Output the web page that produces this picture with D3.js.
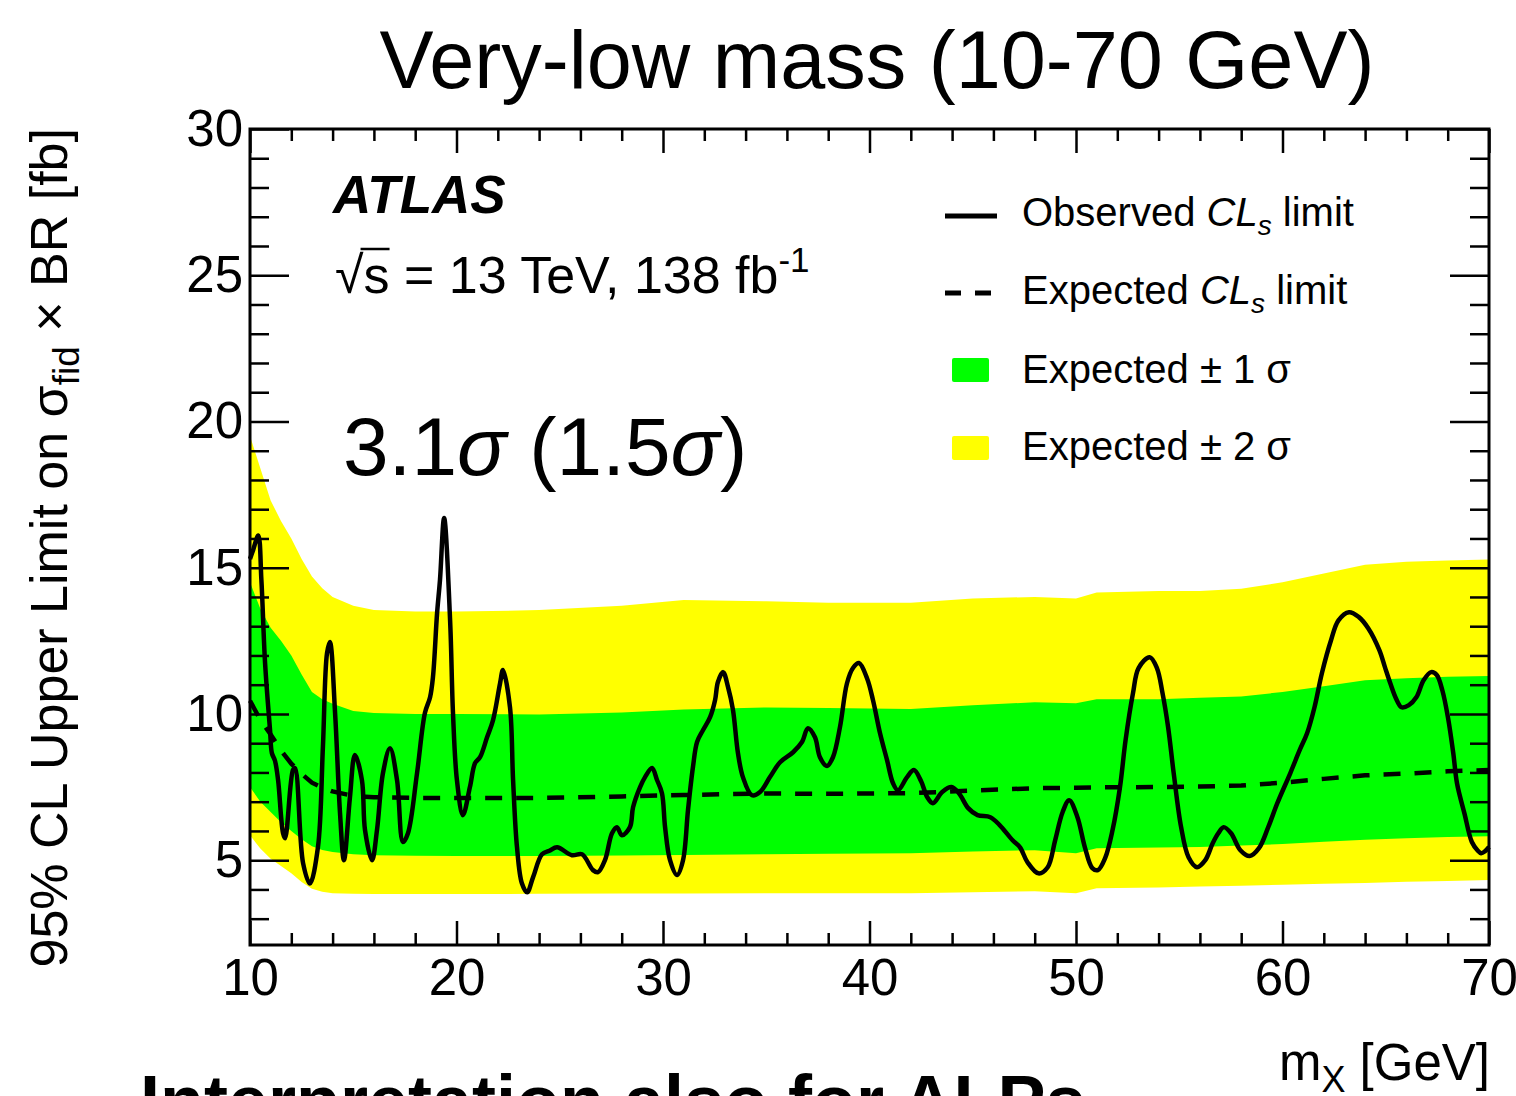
<!DOCTYPE html>
<html>
<head>
<meta charset="utf-8">
<script src="https://cdn.jsdelivr.net/npm/d3@7"></script>
<style>
  html, body { margin: 0; padding: 0; background: #fff; }
  svg { display: block; }
  text { font-family: "Liberation Sans", Arial, Helvetica, sans-serif; fill: #000; }
</style>
</head>
<body>
<svg id="chart" width="1516" height="1096"></svg>
<script>
// ---------------- data ----------------
const bandMass = [10, 10.5, 11, 11.5, 12, 12.5, 13, 13.5, 14, 15, 16, 18, 20, 24, 28, 31, 35, 38, 42, 45, 48, 50, 51, 54, 56, 58, 60, 62, 64, 66, 68, 70];
const plus2 = [19.5, 18.4, 17.3, 16.6, 16.0, 15.3, 14.7, 14.3, 14.0, 13.7, 13.55, 13.5, 13.5, 13.55, 13.7, 13.9, 13.85, 13.8, 13.8, 13.95, 14.0, 13.95, 14.15, 14.2, 14.2, 14.28, 14.5, 14.8, 15.1, 15.2, 15.25, 15.28];
const plus1 = [14.5, 13.6, 12.95, 12.5, 12.0, 11.35, 10.75, 10.5, 10.35, 10.1, 10.03, 10.0, 10.0, 9.98, 10.05, 10.15, 10.22, 10.2, 10.17, 10.3, 10.4, 10.37, 10.5, 10.5, 10.55, 10.6, 10.75, 10.95, 11.15, 11.22, 11.27, 11.3];
const expected = [10.45, 9.8, 9.3, 8.75, 8.3, 7.95, 7.65, 7.48, 7.35, 7.2, 7.15, 7.13, 7.13, 7.13, 7.18, 7.23, 7.28, 7.27, 7.29, 7.38, 7.46, 7.48, 7.49, 7.5, 7.52, 7.55, 7.65, 7.78, 7.9, 7.96, 8.04, 8.08];
const minus1 = [7.5, 7.0, 6.65, 6.3, 6.0, 5.72, 5.48, 5.35, 5.28, 5.2, 5.17, 5.15, 5.14, 5.14, 5.16, 5.18, 5.2, 5.22, 5.24, 5.3, 5.34, 5.24, 5.41, 5.43, 5.45, 5.5, 5.55, 5.63, 5.7, 5.75, 5.79, 5.82];
const minus2 = [5.85, 5.4, 5.05, 4.8, 4.55, 4.25, 4.02, 3.92, 3.87, 3.85, 3.84, 3.84, 3.84, 3.85, 3.86, 3.86, 3.87, 3.87, 3.87, 3.9, 3.94, 3.87, 4.04, 4.07, 4.1, 4.13, 4.16, 4.19, 4.22, 4.26, 4.29, 4.32];

const obsMass = [10.0, 10.15, 10.4, 10.55, 10.73, 10.97, 11.06, 11.21, 11.36, 11.6, 11.7, 12.08, 12.18, 12.57, 12.9, 13.29, 13.53, 13.73, 13.87, 14.12, 14.36, 14.55, 14.84, 15.08, 15.42, 15.57, 15.91, 16.15, 16.44, 16.78, 17.12, 17.41, 17.65, 18.09, 18.47, 18.72, 18.86, 19.06, 19.2, 19.4, 19.69, 19.83, 20.02, 20.31, 20.65, 20.9, 21.14, 21.48, 21.77, 22.11, 22.25, 22.59, 22.74, 22.93, 23.17, 23.42, 23.71, 24.14, 24.5, 24.87, 25.59, 26.08, 26.61, 26.85, 27.19, 27.53, 27.77, 28.01, 28.4, 28.55, 28.89, 29.13, 29.47, 29.71, 29.95, 30.1, 30.34, 30.68, 30.97, 31.21, 31.45, 31.65, 31.94, 32.28, 32.52, 32.66, 32.91, 33.15, 33.39, 33.63, 33.87, 34.31, 34.7, 35.18, 35.67, 36.3, 36.73, 37.02, 37.36, 37.6, 37.94, 38.23, 38.57, 38.91, 39.2, 39.49, 39.88, 40.17, 40.51, 40.85, 41.14, 41.38, 41.82, 42.15, 42.5, 42.8, 43.07, 43.52, 43.97, 44.33, 44.78, 45.23, 45.85, 46.3, 46.93, 47.29, 47.65, 48.18, 48.63, 48.99, 49.35, 49.67, 50.07, 50.43, 50.79, 51.06, 51.41, 51.77, 52.13, 52.4, 52.76, 53.03, 53.57, 53.92, 54.19, 54.46, 54.73, 55.09, 55.45, 55.86, 56.26, 56.62, 56.89, 57.15, 57.51, 57.96, 58.41, 58.86, 59.31, 59.75, 60.38, 60.83, 61.19, 61.55, 61.91, 62.35, 62.71, 63.22, 63.7, 64.15, 64.69, 64.96, 65.22, 65.49, 65.76, 66.12, 66.48, 66.84, 67.2, 67.47, 67.74, 68.01, 68.27, 68.45, 68.81, 69.17, 69.44, 69.62, 69.8, 70.0];
const obsLimit = [15.3, 15.6, 16.1, 14.6, 11.74, 9.45, 8.66, 8.4, 7.74, 5.92, 5.75, 8.08, 8.15, 4.9, 4.2, 5.44, 8.86, 12.08, 12.46, 10.03, 6.6, 5.0, 7.15, 8.6, 7.74, 6.03, 5.0, 6.03, 7.98, 8.83, 7.74, 5.62, 5.92, 7.98, 10.03, 10.57, 11.26, 13.45, 14.58, 16.7, 13.2, 10.03, 7.74, 6.54, 7.5, 8.32, 8.52, 9.2, 9.79, 11.05, 11.5, 10.23, 7.74, 5.44, 4.2, 3.9, 4.42, 5.2, 5.32, 5.44, 5.17, 5.2, 4.66, 4.59, 5.0, 5.92, 6.13, 5.85, 6.13, 6.81, 7.5, 7.84, 8.15, 7.74, 7.29, 6.13, 5.0, 4.49, 5.0, 6.71, 8.18, 9.04, 9.45, 9.89, 10.47, 11.09, 11.43, 10.92, 10.13, 8.66, 7.84, 7.22, 7.33, 7.84, 8.35, 8.69, 9.04, 9.51, 9.2, 8.52, 8.22, 8.52, 9.55, 11.05, 11.57, 11.74, 11.22, 10.47, 9.34, 8.42, 7.63, 7.39, 7.84, 8.08, 7.7, 7.15, 6.95, 7.33, 7.5, 7.29, 6.78, 6.54, 6.47, 6.2, 5.68, 5.44, 4.93, 4.55, 4.76, 5.68, 6.64, 7.05, 6.47, 5.44, 4.73, 4.66, 5.07, 6.03, 7.5, 9.1, 10.71, 11.57, 11.94, 11.57, 10.71, 9.55, 7.98, 6.13, 5.1, 4.76, 5.0, 5.58, 5.92, 6.13, 5.92, 5.34, 5.14, 5.41, 6.13, 6.95, 7.98, 8.76, 9.34, 10.23, 11.4, 12.52, 13.2, 13.48, 13.31, 12.93, 12.18, 11.6, 11.05, 10.54, 10.23, 10.3, 10.57, 11.16, 11.43, 11.33, 10.81, 9.89, 8.66, 7.63, 6.6, 5.62, 5.34, 5.24, 5.3, 5.45];

const xMajorTicks = [10, 20, 30, 40, 50, 60, 70];
const xMinorTicks = d3.range(12, 70, 2).filter(v => v % 10 !== 0);
const yMajorTicks = [5, 10, 15, 20, 25, 30];
const yMinorTicks = d3.range(3, 30, 1).filter(v => v % 5 !== 0);

// ---------------- layout ----------------
const svg = d3.select("#chart");
const L = 250, R = 1489, T = 129, B = 945;
const x = d3.scaleLinear().domain([10, 70]).range([L, R]);
const y = d3.scaleLinear().domain([2.1, 30]).range([B, T]);

const bands = bandMass.map((m, i) => ({ m, p2: plus2[i], p1: plus1[i], e: expected[i], m1: minus1[i], m2: minus2[i] }));
const obs = obsMass.map((m, i) => ({ m, v: obsLimit[i] }));

svg.append("rect").attr("width", 1516).attr("height", 1096).attr("fill", "#fff");

const area2 = d3.area().x(d => x(d.m)).y0(d => y(d.m2)).y1(d => y(d.p2));
const area1 = d3.area().x(d => x(d.m)).y0(d => y(d.m1)).y1(d => y(d.p1));
svg.append("path").datum(bands).attr("d", area2).attr("fill", "#ffff00");
svg.append("path").datum(bands).attr("d", area1).attr("fill", "#00ff00");

svg.append("path").datum(bands)
  .attr("d", d3.line().x(d => x(d.m)).y(d => y(d.e)))
  .attr("fill", "none").attr("stroke", "#000").attr("stroke-width", 4.5)
  .attr("stroke-dasharray", "17,14");

svg.append("path").datum(obs)
  .attr("d", d3.line().x(d => x(d.m)).y(d => y(d.v)).curve(d3.curveCatmullRom.alpha(0.5)))
  .attr("fill", "none").attr("stroke", "#000").attr("stroke-width", 4.5)
  .attr("stroke-linejoin", "round");

// ---------------- axes ----------------
function styleAxis(g) {
  g.select(".domain").remove();
  g.selectAll(".tick line").attr("stroke", "#000").attr("stroke-width", 2.5);
  g.selectAll(".tick text").attr("font-size", 51).attr("fill", "#000")
    .attr("font-family", '"Liberation Sans", Arial, Helvetica, sans-serif');
}
const fmt = d3.format("d");
svg.append("g").attr("transform", `translate(0,${B})`)
  .call(d3.axisBottom(x).tickValues(xMajorTicks).tickSize(-24).tickPadding(14).tickFormat(fmt)).call(styleAxis);
svg.append("g").attr("transform", `translate(0,${B})`)
  .call(d3.axisBottom(x).tickValues(xMinorTicks).tickSize(-12).tickFormat("")).call(styleAxis);
svg.append("g").attr("transform", `translate(0,${T})`)
  .call(d3.axisTop(x).tickValues(xMajorTicks).tickSize(-24).tickFormat("")).call(styleAxis);
svg.append("g").attr("transform", `translate(0,${T})`)
  .call(d3.axisTop(x).tickValues(xMinorTicks).tickSize(-12).tickFormat("")).call(styleAxis);
svg.append("g").attr("transform", `translate(${L},0)`)
  .call(d3.axisLeft(y).tickValues(yMajorTicks).tickSize(-39).tickPadding(7).tickFormat(fmt)).call(styleAxis);
svg.append("g").attr("transform", `translate(${L},0)`)
  .call(d3.axisLeft(y).tickValues(yMinorTicks).tickSize(-19).tickFormat("")).call(styleAxis);
svg.append("g").attr("transform", `translate(${R},0)`)
  .call(d3.axisRight(y).tickValues(yMajorTicks).tickSize(-39).tickFormat("")).call(styleAxis);
svg.append("g").attr("transform", `translate(${R},0)`)
  .call(d3.axisRight(y).tickValues(yMinorTicks).tickSize(-19).tickFormat("")).call(styleAxis);

svg.append("rect").attr("x", L).attr("y", T).attr("width", R - L).attr("height", B - T)
  .attr("fill", "none").attr("stroke", "#000").attr("stroke-width", 3);

// ---------------- texts ----------------
svg.append("text").attr("x", 877).attr("y", 88).attr("text-anchor", "middle")
  .attr("font-size", 81).text("Very-low mass (10-70 GeV)");

svg.append("text").attr("x", 333).attr("y", 213).attr("font-size", 53)
  .attr("font-weight", "bold").attr("font-style", "italic").text("ATLAS");

const en = svg.append("text").attr("x", 335).attr("y", 293).attr("font-size", 52);
en.append("tspan").text("√");
const sT = en.append("tspan").text("s");
en.append("tspan").text(" = 13 TeV, 138 fb");
en.append("tspan").attr("font-size", 35).attr("dy", -21).text("-1");
{
  const bb = sT.node().getExtentOfChar(0);
  svg.append("line").attr("x1", bb.x - 3).attr("x2", bb.x + bb.width).attr("y1", 249).attr("y2", 249)
    .attr("stroke", "#000").attr("stroke-width", 2.5);
}

const sig = svg.append("text").attr("x", 343).attr("y", 475).attr("font-size", 82);
sig.append("tspan").text("3.1");
sig.append("tspan").attr("font-style", "italic").text("σ");
sig.append("tspan").text(" (1.5");
sig.append("tspan").attr("font-style", "italic").text("σ");
sig.append("tspan").text(")");

// legend
const lgX = 1022, lgFs = 40;
svg.append("line").attr("x1", 945).attr("x2", 997).attr("y1", 216).attr("y2", 216)
  .attr("stroke", "#000").attr("stroke-width", 5);
svg.append("line").attr("x1", 945).attr("x2", 992).attr("y1", 293).attr("y2", 293)
  .attr("stroke", "#000").attr("stroke-width", 5).attr("stroke-dasharray", "16,14");
svg.append("rect").attr("x", 952).attr("y", 358).attr("width", 37).attr("height", 24).attr("rx", 2).attr("fill", "#00ff00");
svg.append("rect").attr("x", 952).attr("y", 436).attr("width", 37).attr("height", 24).attr("rx", 2).attr("fill", "#ffff00");

function clsText(yb, lead) {
  const t = svg.append("text").attr("x", lgX).attr("y", yb).attr("font-size", lgFs);
  t.append("tspan").text(lead + " ");
  t.append("tspan").attr("font-style", "italic").text("CL");
  t.append("tspan").attr("font-style", "italic").attr("font-size", 28).attr("dy", 9).text("s");
  t.append("tspan").attr("dy", -9).text(" limit");
}
clsText(226, "Observed");
clsText(304, "Expected");
svg.append("text").attr("x", lgX).attr("y", 383).attr("font-size", lgFs).text("Expected ± 1 σ");
svg.append("text").attr("x", lgX).attr("y", 460).attr("font-size", lgFs).text("Expected ± 2 σ");

// y axis title
const yt = svg.append("text").attr("transform", "translate(67,128) rotate(-90)")
  .attr("text-anchor", "end").attr("font-size", 52);
yt.append("tspan").text("95% CL Upper Limit on σ");
yt.append("tspan").attr("font-size", 37).attr("dy", 12).text("fid");
yt.append("tspan").attr("dy", -12).text(" × BR [fb]");

// x axis title
const xt = svg.append("text").attr("x", 1490).attr("y", 1080).attr("text-anchor", "end").attr("font-size", 51);
xt.append("tspan").text("m");
xt.append("tspan").attr("font-size", 36).attr("dy", 12).text("X");
xt.append("tspan").attr("dy", -12).text(" [GeV]");

// cut-off caption below
svg.append("text").attr("x", 140).attr("y", 1126).attr("font-size", 72).attr("font-weight", "bold")
  .text("Interpretation also for ALPs");
</script>
</body>
</html>
